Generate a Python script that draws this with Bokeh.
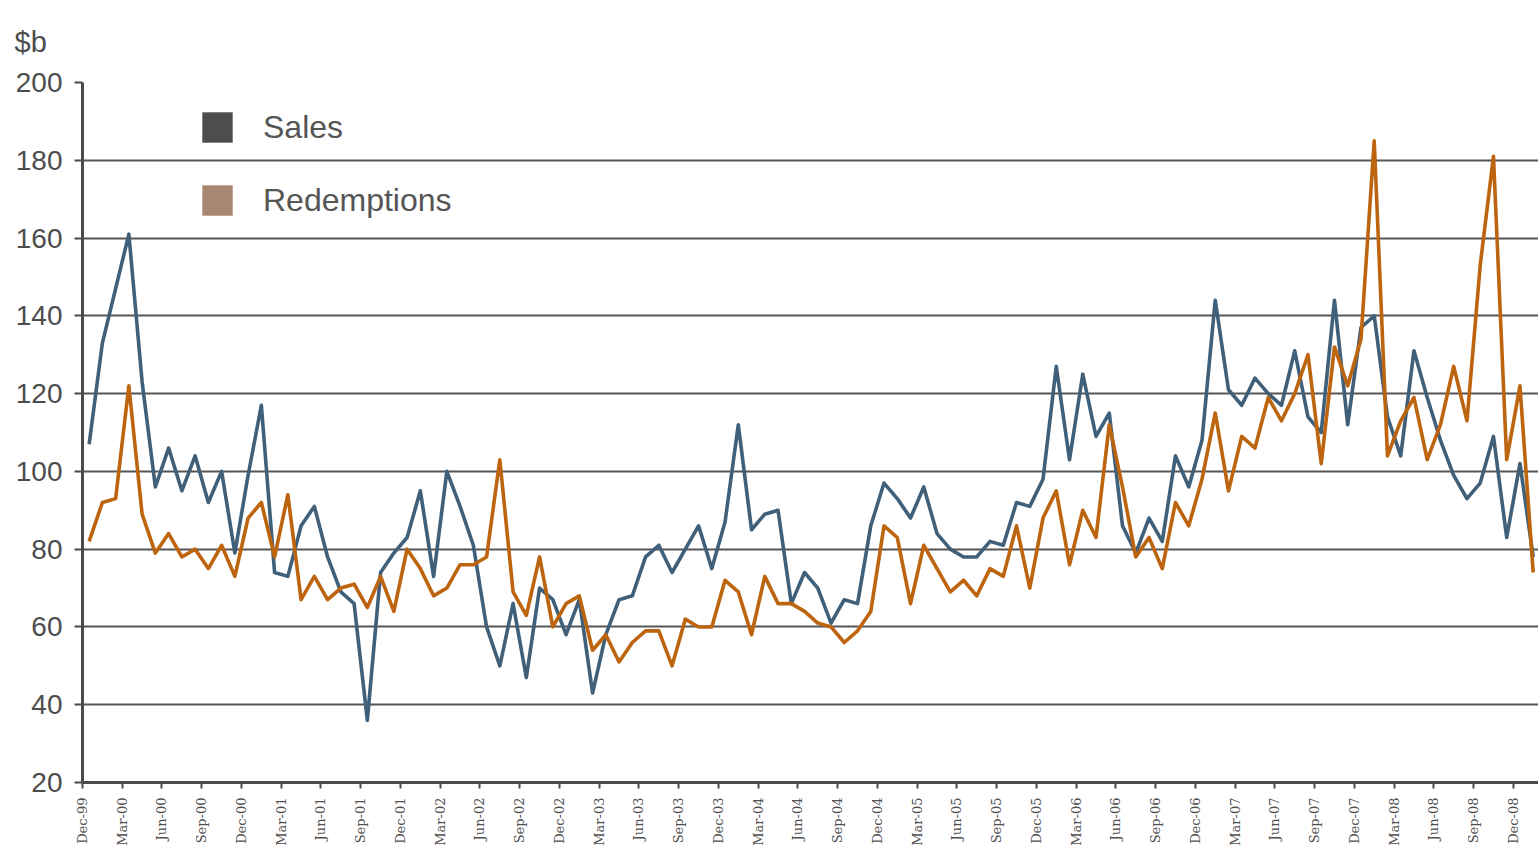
from bokeh.plotting import figure
from bokeh.models import Range1d, FixedTicker, Legend, LegendItem, ColumnDataSource
from bokeh.embed import file_html
from bokeh.resources import INLINE
from math import pi

# Monthly values, Dec-99 .. Jan-09 ($b)
sales = [107, 133, 147, 161, 123, 96, 106, 95, 104, 92,
         100, 79, 99, 117, 74, 73, 86, 91, 78, 69,
         66, 36, 74, 79, 83, 95, 73, 100, 91, 81,
         60, 50, 66, 47, 70, 67, 58, 67, 43, 58,
         67, 68, 78, 81, 74, 80, 86, 75, 87, 112,
         85, 89, 90, 66, 74, 70, 61, 67, 66, 86,
         97, 93, 88, 96, 84, 80, 78, 78, 82, 81,
         92, 91, 98, 127, 103, 125, 109, 115, 86, 79,
         88, 82, 104, 96, 108, 144, 121, 117, 124, 120,
         117, 131, 114, 110, 144, 112, 137, 140, 114, 104,
         131, 119, 108, 99, 93, 97, 109, 83, 102, 78]

redemptions = [82, 92, 93, 122, 89, 79, 84, 78, 80, 75,
               81, 73, 88, 92, 78, 94, 67, 73, 67, 70,
               71, 65, 73, 64, 80, 75, 68, 70, 76, 76,
               78, 103, 69, 63, 78, 60, 66, 68, 54, 58,
               51, 56, 59, 59, 50, 62, 60, 60, 72, 69,
               58, 73, 66, 66, 64, 61, 60, 56, 59, 64,
               86, 83, 66, 81, 75, 69, 72, 68, 75, 73,
               86, 70, 88, 95, 76, 90, 83, 112, 96, 78,
               83, 75, 92, 86, 98, 115, 95, 109, 106, 119,
               113, 120, 130, 102, 132, 122, 134, 185, 104, 113,
               119, 103, 112, 127, 113, 153, 181, 103, 122, 74]

tick_labels = ["Dec-99", "Mar-00", "Jun-00", "Sep-00", "Dec-00", "Mar-01", "Jun-01", "Sep-01",
               "Dec-01", "Mar-02", "Jun-02", "Sep-02", "Dec-02", "Mar-03", "Jun-03", "Sep-03",
               "Dec-03", "Mar-04", "Jun-04", "Sep-04", "Dec-04", "Mar-05", "Jun-05", "Sep-05",
               "Dec-05", "Mar-06", "Jun-06", "Sep-06", "Dec-06", "Mar-07", "Jun-07", "Sep-07",
               "Dec-07", "Mar-08", "Jun-08", "Sep-08", "Dec-08"]

y_ticks = [20, 40, 60, 80, 100, 120, 140, 160, 180, 200]

# month slots: each value sits in the middle of its month slot
xpos = [i + 0.5 for i in range(len(sales))]
tick_pos = [3 * k for k in range(len(tick_labels))]

src = ColumnDataSource(dict(x=xpos, sales=sales, red=redemptions))

p = figure(width=1538, height=854, output_backend="svg", toolbar_location=None,
           x_range=Range1d(0, 109.9), y_range=Range1d(20, 200),
           min_border_left=82, min_border_right=0, min_border_top=82, min_border_bottom=72,
           background_fill_color="white", border_fill_color="white")
p.outline_line_color = None

# unit label as a left-aligned title at the top of the border area
p.title.text = "$b"
p.title.align = "left"
p.title.vertical_align = "top"
p.title.offset = -68
p.title.standoff = 46
p.title.text_font = "Liberation Sans"
p.title.text_font_size = "29px"
p.title.text_font_style = "normal"
p.title.text_color = "#4d4d4d"

sales_color = "#40607a"
red_color = "#bd640f"

p.line("x", "sales", source=src, line_color=sales_color, line_width=3.6, line_join="round")
p.line("x", "red", source=src, line_color=red_color, line_width=3.6, line_join="round")

# axes
p.xaxis.ticker = FixedTicker(ticks=tick_pos)
p.xaxis.major_label_overrides = {t: lab for t, lab in zip(tick_pos, tick_labels)}
p.xaxis.major_label_orientation = pi / 2
p.xaxis.major_label_text_font = "DejaVu Serif"
p.xaxis.major_label_text_font_size = "13px"
p.xaxis.major_label_text_color = "#505050"
p.xaxis.major_tick_out = 6
p.xaxis.major_tick_in = 0
p.xaxis.minor_tick_line_color = None
p.xaxis.major_label_standoff = 9
p.xaxis.axis_line_width = 3
p.xaxis.axis_line_color = "#4a4a4a"
p.xaxis.major_tick_line_color = "#4a4a4a"
p.xaxis.major_tick_line_width = 2

p.yaxis.ticker = FixedTicker(ticks=y_ticks)
p.yaxis.major_label_text_font = "Liberation Sans"
p.yaxis.major_label_text_font_size = "28px"
p.yaxis.major_label_text_color = "#4d4d4d"
p.yaxis.major_tick_out = 8
p.yaxis.major_tick_in = 0
p.yaxis.minor_tick_line_color = None
p.yaxis.major_label_standoff = 12
p.yaxis.axis_line_width = 3
p.yaxis.axis_line_color = "#4a4a4a"
p.yaxis.major_tick_line_color = "#4a4a4a"
p.yaxis.major_tick_line_width = 2

p.xgrid.grid_line_color = None
p.ygrid.ticker = FixedTicker(ticks=y_ticks)
p.ygrid.grid_line_color = "#555555"
p.ygrid.grid_line_width = 2

# legend with square swatches (dummy renderers draw nothing in the plot)
nan = float("nan")
r_s = p.rect(x=[nan], y=[nan], width=1, height=1, fill_color="#4d4d4d", line_color=None)
r_r = p.rect(x=[nan], y=[nan], width=1, height=1, fill_color="#a98671", line_color=None)
legend = Legend(items=[LegendItem(label="Sales", renderers=[r_s]),
                       LegendItem(label="Redemptions", renderers=[r_r])],
                location=(116, 563), glyph_width=38, glyph_height=38, spacing=35,
                padding=0, margin=0, label_standoff=27,
                label_text_font="Liberation Sans", label_text_font_size="32px",
                label_text_color="#555555", border_line_color=None,
                background_fill_alpha=0)
p.add_layout(legend)

open("out.html", "w").write(file_html(p, INLINE))
